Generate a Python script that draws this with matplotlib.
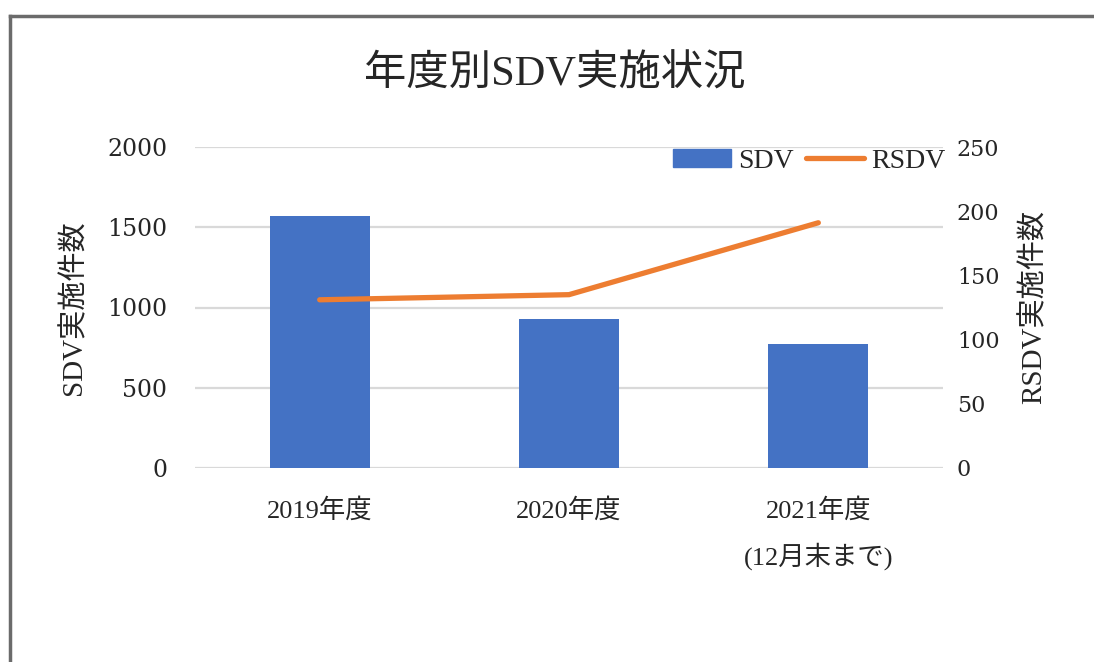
import matplotlib
matplotlib.use("Agg")
import matplotlib.pyplot as plt
from matplotlib.lines import Line2D
import numpy as np

plt.rcParams['font.family'] = ['Liberation Serif', 'Noto Sans CJK JP']

years = ['2019年度', '2020年度', '2021年度\n(12月末まで)']
sdv = [1572, 930, 770]
rsdv = [131, 135, 191]

blue = '#4472c4'
orange = '#ed7d31'
grid = '#d9d9d9'
textcol = '#262626'
numfont = ['DejaVu Serif', 'Noto Sans CJK JP']

fig = plt.figure(figsize=(10.94, 6.62), dpi=100)
ax = fig.add_axes([195/1094, 1-468/662, 748/1094, 321/662])
ax2 = ax.twinx()

x = np.arange(len(years))
ax.bar(x, sdv, width=0.4, color=blue, zorder=2)
ax2.plot(x, rsdv, color=orange, lw=3.8, solid_capstyle='round', solid_joinstyle='miter', zorder=3)

ax.set_xlim(-0.5, 2.5)
ax.set_ylim(0, 2000)
ax.set_yticks([0, 500, 1000, 1500, 2000])
ax2.set_ylim(0, 250)
ax2.set_yticks([0, 50, 100, 150, 200, 250])
ax.yaxis.grid(True, color=grid, lw=1.6, zorder=0)
ax.set_axisbelow(True)

for a in (ax, ax2):
    for s in a.spines.values():
        s.set_visible(False)
    a.tick_params(length=0)

ax.set_xticks(x)
ax.set_xticklabels(years, fontsize=19, linespacing=1.85, color=textcol)
ax.tick_params(axis='x', pad=22)
ax.tick_params(axis='y', pad=20)
ax2.tick_params(axis='y', pad=10)
for lab in ax.get_yticklabels():
    lab.set_fontfamily(numfont)
    lab.set_fontsize(17)
    lab.set_color(textcol)
for lab in ax2.get_yticklabels():
    lab.set_fontfamily(numfont)
    lab.set_fontsize(16)
    lab.set_color(textcol)

ax.set_ylabel('SDV実施件数', fontsize=21, labelpad=14, color=textcol)
ax2.set_ylabel('RSDV実施件数', fontsize=21, rotation=90, labelpad=15, color=textcol)

fig.text(555/1094, 1-75/662, '年度別SDV実施状況', fontsize=30.5, ha='center', va='center', color=textcol)

handles = [plt.Rectangle((0, 0), 1, 1, color=blue),
           Line2D([0], [0], color=orange, lw=3.8, solid_capstyle='round')]
leg = fig.legend(handles, ['SDV', 'RSDV'], loc='center', bbox_to_anchor=(809/1094, 1-161/662),
                 ncol=2, frameon=False, fontsize=20, handlelength=2.1, handleheight=0.6,
                 handletextpad=0.25, columnspacing=0.45, borderpad=0, borderaxespad=0)
for t in leg.get_texts():
    t.set_color(textcol)

# outer frame (top and left edges of the chart box)
fig.add_artist(Line2D([10/1094, 1], [1-16/662, 1-16/662], color='#6b6b6b', lw=2.5))
fig.add_artist(Line2D([10/1094, 10/1094], [0, 1-16/662], color='#6b6b6b', lw=2.5))

fig.savefig('out.png', dpi=100)
